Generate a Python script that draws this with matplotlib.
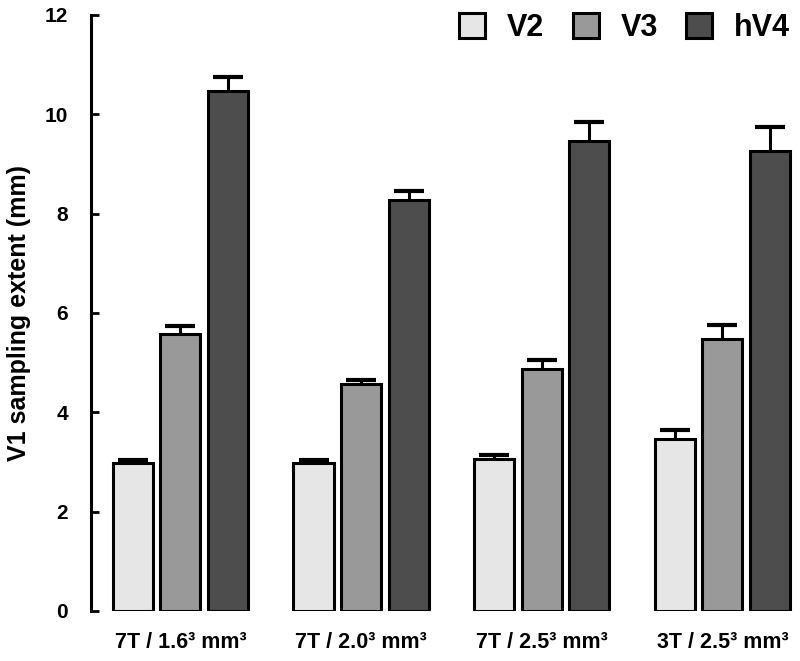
import matplotlib
matplotlib.use("Agg")
import matplotlib.pyplot as plt
import numpy as np
from matplotlib.patches import Patch

plt.rcParams['font.family'] = ['Liberation Sans', 'DejaVu Sans']
plt.rcParams['font.weight'] = 'bold'

categories = ["7T / 1.6³ mm³", "7T / 2.0³ mm³", "7T / 2.5³ mm³", "3T / 2.5³ mm³"]
series_names = ["V2", "V3", "hV4"]
v2 = [2.97, 2.97, 3.07, 3.47]
v3 = [5.57, 4.58, 4.87, 5.47]
hv4 = [10.47, 8.27, 9.46, 9.26]
v2_err = [0.07, 0.07, 0.08, 0.17]
v3_err = [0.17, 0.08, 0.18, 0.28]
hv4_err = [0.28, 0.18, 0.38, 0.48]
colors = ["#e6e6e6", "#999999", "#4d4d4d"]

fig = plt.figure(figsize=(8, 6.61), dpi=100)
ax = fig.add_axes([91/800, 50/661, 1 - 91/800, 596/661])

x = np.arange(len(categories))
step = 0.263
width = 0.222
vals = [v2, v3, hv4]
errs = [v2_err, v3_err, hv4_err]
for i, (vv, ee, c) in enumerate(zip(vals, errs, colors)):
    pos = x + (i - 1) * step
    # symmetric error bars drawn beneath the bars: the lower half is hidden by the bar
    ax.errorbar(pos, vv, yerr=ee, fmt='none', ecolor='black',
                elinewidth=2.2, capsize=10.5, capthick=3, zorder=2)
    ax.bar(pos, vv, width=width, color=c, edgecolor='black', linewidth=2.2, zorder=3)

ax.set_ylim(0, 12)
ax.set_xlim(-0.495, 3.43)
ax.set_yticks(np.arange(0, 13, 2))
ax.set_yticklabels([str(t) for t in range(0, 13, 2)], fontsize=15, fontweight='bold')
ax.set_xticks(x)
ax.set_xticklabels(categories, fontsize=15.5, fontweight='bold')
ax.tick_params(axis='y', direction='in', length=6, width=2, pad=16.5)
ax.tick_params(axis='x', length=0, pad=15)
for s in ['top', 'right', 'bottom']:
    ax.spines[s].set_visible(False)
ax.spines['left'].set_linewidth(2.2)
ax.set_ylabel("V1 sampling extent (mm)", fontsize=18, fontweight='bold', labelpad=10)

handles = [Patch(facecolor=c, edgecolor='black', linewidth=2.2) for c in colors]
leg = ax.legend(handles, series_names, loc='center right', ncol=3, frameon=False,
                prop={'weight': 'bold', 'size': 22}, handlelength=0.85, handleheight=0.85,
                columnspacing=0.92, handletextpad=0.72, borderpad=0, borderaxespad=0,
                bbox_to_anchor=(0.986, 0.978))

fig.savefig("out.png", dpi=100)
